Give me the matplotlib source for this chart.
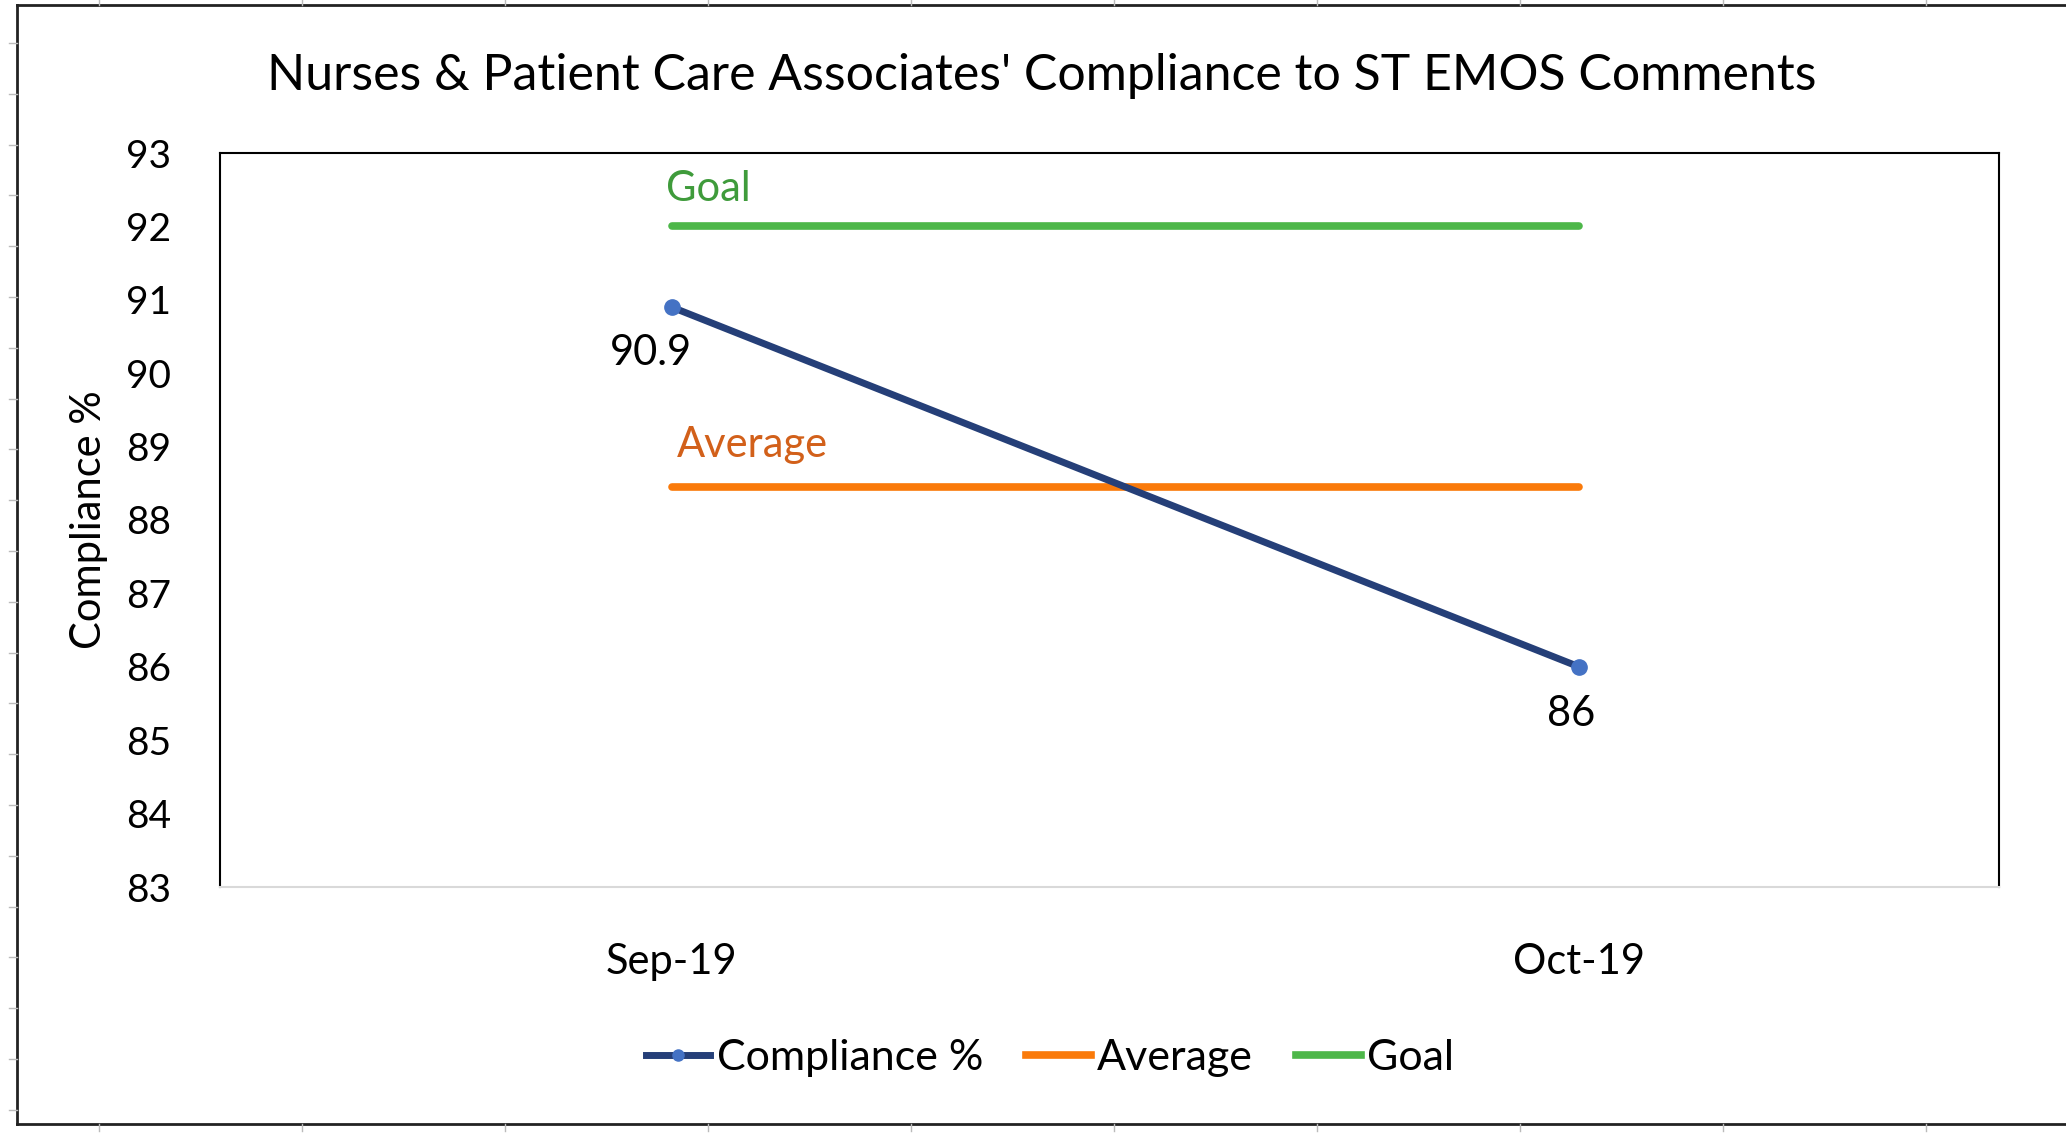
import numpy as np
import matplotlib.pyplot as plt
from matplotlib.lines import Line2D

plt.rcParams['font.family'] = ['Lato', 'DejaVu Sans']

months = ['Sep-19', 'Oct-19']
compliance = [90.9, 86]
average = [88.45, 88.45]
goal = [92, 92]
y_ticks = list(range(83, 94))

W, H, DPI = 2066, 1143, 100
fig = plt.figure(figsize=(W / DPI, H / DPI), dpi=DPI)

# plot area in pixel coordinates of the reference
left, right, top, bottom = 220, 1999, 153, 887
ax = fig.add_axes([left / W, 1 - bottom / H, (right - left) / W, (bottom - top) / H])

x = np.arange(len(months))
ax.plot(x, goal, color='#4DB749', lw=5.5, solid_capstyle='round', label='Goal', zorder=2)
ax.plot(x, average, color='#FA7A0A', lw=5.5, solid_capstyle='round', label='Average', zorder=2)
ax.plot(x, compliance, color='#253F78', lw=5, marker='o', ms=11, mfc='#4472C4', mec='#4472C4',
        solid_capstyle='round', label='Compliance %', zorder=3)

ax.set_xlim(-0.498, 1.463)
ax.set_ylim(83, 93)
ax.set_yticks(y_ticks)
ax.set_xticks(x)
ax.set_xticklabels(months)
ax.tick_params(axis='y', length=0, pad=35, labelsize=28)
ax.tick_params(axis='x', length=0, pad=40, labelsize=30)
for s in ['left', 'top', 'right']:
    ax.spines[s].set_color('black')
    ax.spines[s].set_linewidth(1.5)
ax.spines['bottom'].set_color('#D9D9D9')
ax.spines['bottom'].set_linewidth(1.5)

# data labels
offsets = [(-15, -33), (-6, -34)]
for xi, v, off in zip(x, compliance, offsets):
    ax.annotate(f'{v:g}', (xi, v), xytext=off, textcoords='offset points',
                ha='center', va='center', fontsize=30, color='black')

ax.annotate('Goal', (x[0], goal[0]), xytext=(-4, 27), textcoords='offset points',
            ha='left', va='center', fontsize=30, color='#3F9B3B')
ax.annotate('Average', (x[0], average[0]), xytext=(4, 30), textcoords='offset points',
            ha='left', va='center', fontsize=30, color='#D2601A')

ax.set_ylabel('Compliance %', fontsize=30)
ax.yaxis.set_label_coords((108 - left) / (right - left), 0.5)

fig.text(1042 / W, 1 - 76 / H, "Nurses & Patient Care Associates' Compliance to ST EMOS Comments",
         ha='center', va='center', fontsize=36)

handles = [Line2D([], [], color='#253F78', lw=5, marker='o', ms=8, mfc='#4472C4', mec='#4472C4'),
           Line2D([], [], color='#FA7A0A', lw=5.5),
           Line2D([], [], color='#4DB749', lw=5.5)]
fig.legend(handles, ['Compliance %', 'Average', 'Goal'], loc='center',
           bbox_to_anchor=(1050 / W, 1 - 1058 / H), ncol=3, frameon=False, fontsize=31,
           handlelength=1.5, handletextpad=0.15, columnspacing=1.0)

# outer chart frame with small sheet tick marks
frame_l, frame_t, frame_b = 17, 5, 1124
fig.add_artist(Line2D([frame_l / W, frame_l / W], [1 - frame_t / H, 1 - frame_b / H],
                      transform=fig.transFigure, color='#222222', lw=2))
fig.add_artist(Line2D([frame_l / W, 1], [1 - frame_t / H, 1 - frame_t / H],
                      transform=fig.transFigure, color='#222222', lw=2))
fig.add_artist(Line2D([frame_l / W, 1], [1 - frame_b / H, 1 - frame_b / H],
                      transform=fig.transFigure, color='#222222', lw=2))
for yy in np.arange(43, frame_b, 50.8):
    fig.add_artist(Line2D([9 / W, frame_l / W], [1 - yy / H, 1 - yy / H],
                          transform=fig.transFigure, color='#BBBBBB', lw=1))
for xx in np.arange(99, W, 203):
    fig.add_artist(Line2D([xx / W, xx / W], [1 - frame_b / H, 1 - (frame_b + 7) / H],
                          transform=fig.transFigure, color='#BBBBBB', lw=1))
    fig.add_artist(Line2D([xx / W, xx / W], [1 - frame_t / H, 1],
                          transform=fig.transFigure, color='#BBBBBB', lw=1))

fig.savefig('out.png', dpi=DPI)
